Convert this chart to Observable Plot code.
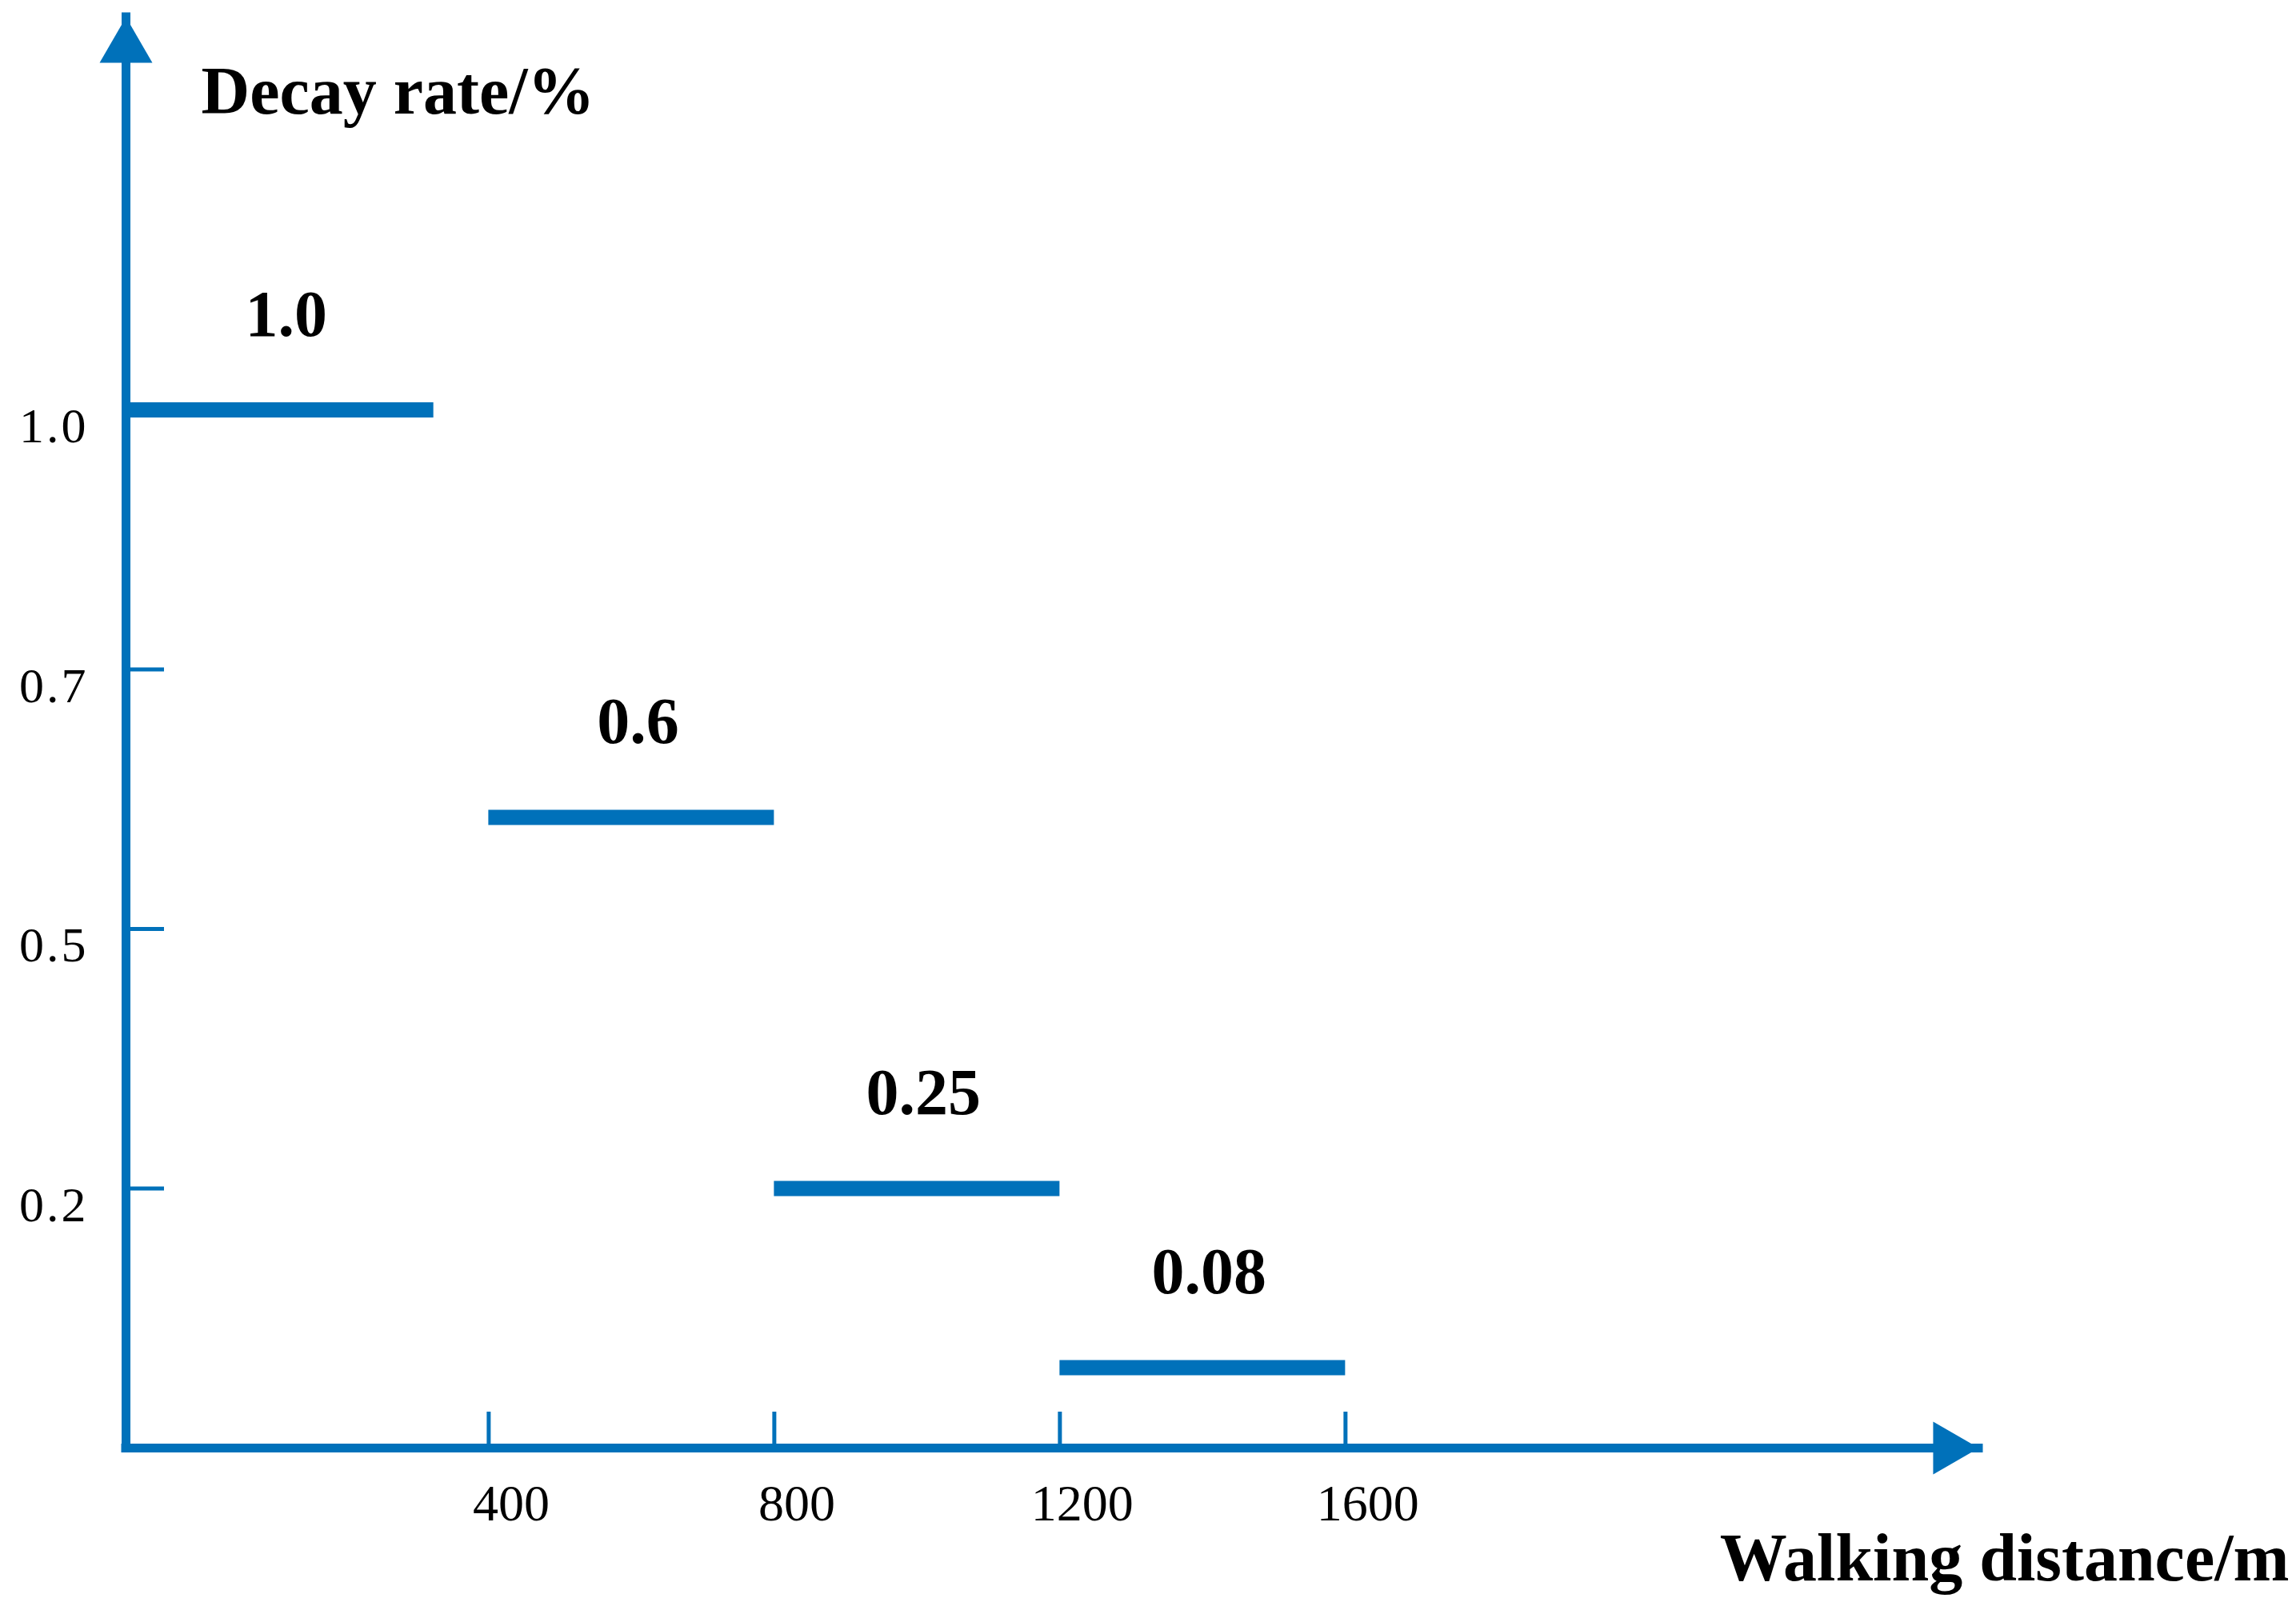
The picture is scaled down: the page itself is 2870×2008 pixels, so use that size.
<!DOCTYPE html>
<html><head><meta charset="utf-8">
<script src="https://cdn.jsdelivr.net/npm/d3@7"></script>
<script src="https://cdn.jsdelivr.net/npm/@observablehq/plot@0.6"></script>
<style>
html,body{margin:0;padding:0;background:#fff;}
#chart svg{display:block;}
[aria-label="y-axis tick label"] text{letter-spacing:3px;}
</style>
</head><body><div id="chart"></div>
<script>
// ---- data ----
const bandStart   = [-108, 400, 800, 1200];   // walking distance (m), first band starts at the y axis
const bandEnd     = [323, 800, 1200, 1600];
const decayDrawn  = [1.0, 0.586, 0.2, 0.062]; // drawn height on the y axis
const decayLabels = ["1.0", "0.6", "0.25", "0.08"];
const xTicks = [400, 800, 1200, 1600];
const yTicks = [0.2, 0.5, 0.7, 1.0];
const yTickTicks = [0.2, 0.5, 0.7];
const xAxisStart = -108, xAxisEnd = 2487;
const yAxisDomain = [0, 0.2, 0.5, 0.7, 1.0, 1.45];

const bands = bandStart.map((s, i) => ({start: s, end: bandEnd[i], rate: decayDrawn[i], label: decayLabels[i]}));

const W = 2870, H = 2008;
const mL = 157, mR = 397, mT = 21, mB = 198;
const frameW = W - mL - mR, frameH = H - mT - mB;
const step = 324.5;
const yBase = H - mB;
const yRange = [yBase, yBase - step, yBase - 2 * step, yBase - 3 * step, yBase - 4 * step, mT];

const blue = "#0071BA";
const serif = "'Liberation Serif', 'Times New Roman', serif";

const chart = Plot.plot({
  width: W, height: H,
  marginLeft: mL, marginRight: mR, marginTop: mT, marginBottom: mB,
  style: {fontFamily: serif, background: "#fff", color: "#000"},
  x: {type: "linear", domain: [xAxisStart, xAxisEnd]},
  y: {type: "linear", domain: yAxisDomain, range: yRange},
  marks: [
    // axis lines
    Plot.ruleY([0], {x1: xAxisStart, x2: xAxisEnd, stroke: blue, strokeWidth: 11, strokeLinecap: "square"}),
    Plot.ruleX([xAxisStart], {y1: 0, y2: yAxisDomain[yAxisDomain.length - 1], stroke: blue, strokeWidth: 11, strokeLinecap: "square"}),
    // arrowheads
    Plot.dot([[xAxisStart, yAxisDomain[yAxisDomain.length - 1]]], {x: d => d[0], y: d => d[1], symbol: "triangle", r: 24.5, fill: blue, stroke: "none", dy: 38}),
    Plot.dot([[xAxisEnd, 0]], {x: d => d[0], y: d => d[1], symbol: "triangle", r: 24.5, fill: blue, stroke: "none", rotate: 90, dx: -38}),
    // ticks
    Plot.tickX(xTicks, {x: d => d, stroke: blue, strokeWidth: 5, insetTop: frameH - 45}),
    Plot.tickY(yTickTicks, {y: d => d, stroke: blue, strokeWidth: 5, insetRight: frameW - 48}),
    // tick labels
    Plot.axisX({ticks: xTicks, tickSize: 0, tickPadding: 45, fontSize: 64, dx: 28, tickFormat: d => String(d), label: null}),
    Plot.axisY({ticks: yTicks, tickSize: 0, tickPadding: 47, fontSize: 62, dy: 21, tickFormat: d3.format(".1f"), label: null}),
    // step segments
    Plot.ruleY(bands, {y: "rate", x1: "start", x2: "end", stroke: blue, strokeWidth: 19}),
    Plot.text(bands, {x: d => (d.start + d.end) / 2, y: "rate", text: "label", fontSize: 82, fontWeight: "bold", lineAnchor: "bottom", dy: -93, dx: 8, fill: "#000"}),
    // axis titles
    Plot.text(["Decay rate/%"], {frameAnchor: "top-left", text: d => d, textAnchor: "start", lineAnchor: "bottom", fontSize: 84, fontWeight: "bold", dx: 94, dy: 120, fill: "#000"}),
    Plot.text(["Walking distance/m"], {frameAnchor: "bottom-right", text: d => d, textAnchor: "end", lineAnchor: "bottom", fontSize: 84, fontWeight: "bold", dx: 388, dy: 165, fill: "#000"})
  ]
});
document.getElementById("chart").appendChild(chart);
</script>
</body></html>
